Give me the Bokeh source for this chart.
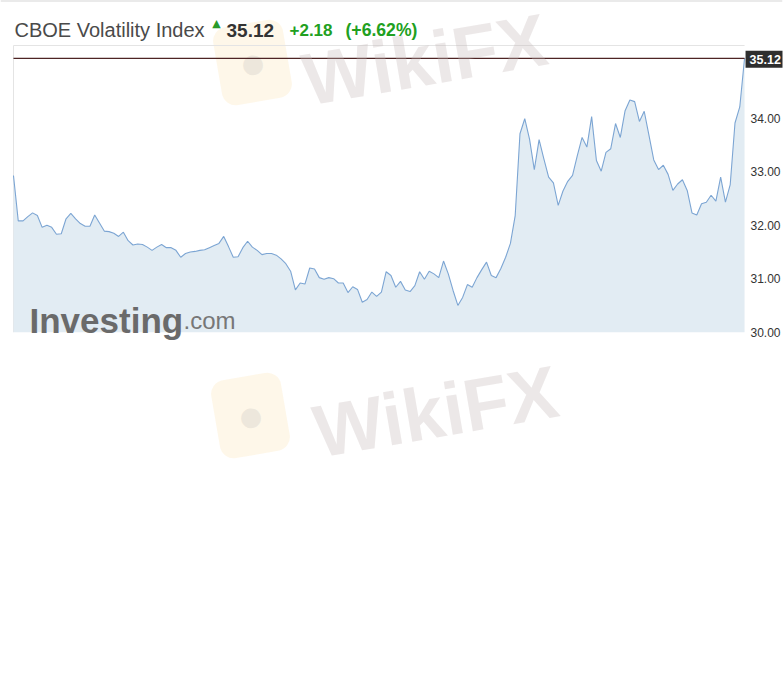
from bokeh.plotting import figure
from bokeh.models import Label, Range1d, FixedTicker, PrintfTickFormatter, Span
from bokeh.embed import file_html
from bokeh.resources import INLINE

# ---- data ----
vix = [
    32.93, 32.08, 32.08, 32.16, 32.23, 32.18, 31.96, 32.00, 31.96, 31.83,
    31.84, 32.12, 32.22, 32.12, 32.03, 31.98, 31.98, 32.19, 32.04, 31.89,
    31.88, 31.85, 31.79, 31.87, 31.71, 31.63,
    31.65, 31.64, 31.59, 31.53, 31.59, 31.64, 31.58, 31.58, 31.53, 31.40,
    31.47, 31.50, 31.51, 31.53, 31.54, 31.58, 31.62, 31.66, 31.79, 31.60,
    31.40, 31.41, 31.58, 31.70, 31.59,
    31.53, 31.45, 31.47, 31.47, 31.44, 31.37, 31.28, 31.14, 30.79, 30.92,
    30.90, 31.20, 31.18, 31.02, 30.99, 31.02, 31.00, 30.92, 30.92, 30.74,
    30.85, 30.80, 30.56, 30.61, 30.75, 30.67, 30.75, 31.13, 31.06, 30.84,
    30.95, 30.79, 30.76, 30.87, 31.13, 30.99, 31.14, 31.09, 31.02, 31.33,
    31.09, 30.78, 30.50, 30.65, 30.89, 30.84, 31.02, 31.17, 31.31, 31.06,
    31.02, 31.19, 31.40, 31.66, 32.18, 33.71, 33.99, 33.61, 33.04, 33.60,
    33.24, 32.90, 32.79, 32.37, 32.64, 32.82, 32.93, 33.30, 33.64, 33.46,
    34.03, 33.21, 33.01, 33.36, 33.43, 33.90, 33.64, 34.14, 34.34, 34.31,
    33.94, 34.13, 33.68, 33.22, 33.04, 33.12, 32.95, 32.65, 32.77, 32.85,
    32.65, 32.23, 32.19, 32.40, 32.43, 32.56, 32.45, 32.90, 32.43, 32.76,
    33.91, 34.21, 35.12,
]
steps = list(range(len(vix)))
y_ticks = [30, 31, 32, 33, 34]
last_price = 35.12
change_text = "+2.18"
change_pct_text = "(+6.62%)"
title_text = "CBOE Volatility Index"

# ---- layout geometry (pixels) ----
W, H = 783, 460
BOX_L, BOX_R = 13, 745          # chart box, left/right
BOX_T, Y30 = 45, 331.7          # chart box top, pixel row of 30.00
PX_PER_UNIT = 53.5
n = len(vix)
px_per_step = (BOX_R - BOX_L) / (n - 1)

x_start = -BOX_L / px_per_step
x_end = (n - 1) + (W - BOX_R) / px_per_step
Y_BASE = 30.0
y_end = Y_BASE + Y30 / PX_PER_UNIT
y_start = Y_BASE - (H - Y30) / PX_PER_UNIT
Y_TOP = Y_BASE + (Y30 - BOX_T) / PX_PER_UNIT

p = figure(width=W, height=H, output_backend="svg", toolbar_location=None,
           x_range=Range1d(x_start, x_end), y_range=Range1d(y_start, y_end),
           x_axis_location=None, y_axis_location="right", title=None,
           min_border_left=0, min_border_top=0, min_border_right=0,
           min_border_bottom=0)
p.outline_line_color = None
p.grid.visible = False
p.background_fill_color = "white"
p.border_fill_color = "white"

ax = p.yaxis[0]
ax.ticker = FixedTicker(ticks=y_ticks)
ax.formatter = PrintfTickFormatter(format="%.2f")
ax.axis_line_color = None
ax.major_tick_line_color = None
ax.minor_tick_line_color = None
ax.major_tick_out = 0
ax.major_tick_in = 0
ax.major_label_standoff = -32
ax.major_label_text_font = "Liberation Sans"
ax.major_label_text_font_size = "12px"
ax.major_label_text_color = "#333333"


def fx(px):
    return px


def fy(py):
    return H - py


# page top rule
p.add_layout(Span(location=y_end, dimension="width", line_color="#d6d6d6",
                  line_width=2))

# WikiFX watermark logos (behind)
for (lx, ly) in [(252, 62), (250, 415)]:
    p.add_layout(Label(x=fx(lx), y=fy(ly), x_units="screen", y_units="screen",
                       text=" ", text_font_size="10px", padding=34,
                       angle=0.17, text_align="center", text_baseline="middle",
                       background_fill_color="#fcecc8", background_fill_alpha=0.4,
                       border_radius=14, level="underlay"))
    p.add_layout(Label(x=fx(lx), y=fy(ly), x_units="screen", y_units="screen",
                       text="●", text_font_size="46px", angle=0.17,
                       text_align="center", text_baseline="middle",
                       text_color="#bdb8b8", text_alpha=0.25, level="underlay"))

# chart box border (top + left)
p.line([steps[0], steps[0], steps[-1]], [Y_BASE, Y_TOP, Y_TOP],
       line_color="#e4e4e4", line_width=1)

# area + line
p.varea(x=steps, y1=Y_BASE, y2=vix, fill_color="#e2ecf3")
p.line(steps, vix, line_color="#7ca5d3", line_width=1.1)

# last price line
p.line([steps[0], steps[-1]], [last_price, last_price],
       line_color="#4e2424", line_width=1.2)

# Investing.com watermark inside chart
p.add_layout(Label(x=fx(29), y=fy(320), x_units="screen", y_units="screen",
                   text="Investing", text_font="Liberation Sans",
                   text_font_style="bold", text_font_size="35px",
                   text_color="#6a6a6a", text_baseline="alphabetic"))
p.add_layout(Label(x=fx(183), y=fy(320), x_units="screen", y_units="screen",
                   text=".com", text_font="Liberation Sans",
                   text_font_size="24px",
                   text_color="#777777", text_baseline="alphabetic"))

# WikiFX text watermarks
for (tx, ty) in [(303, 80), (314, 432)]:
    p.add_layout(Label(x=fx(tx), y=fy(ty), x_units="screen", y_units="screen",
                       text="WikiFX", text_font="Liberation Sans",
                       text_font_style="bold", text_font_size="74px",
                       angle=0.17, text_color="#c4b6b6", text_alpha=0.32,
                       text_baseline="alphabetic"))

# header texts
p.add_layout(Label(x=fx(14), y=fy(29.5), x_units="screen", y_units="screen",
                   text=title_text, text_font="Liberation Sans",
                   text_font_size="20px", text_color="#4a4a4a",
                   text_baseline="alphabetic"))
p.add_layout(Label(x=fx(216), y=fy(22.5), x_units="screen", y_units="screen",
                   text="▲", text_font="DejaVu Sans", text_font_size="11px",
                   text_color="#2a9a2a", text_align="center",
                   text_baseline="alphabetic"))
p.add_layout(Label(x=fx(226), y=fy(29.5), x_units="screen", y_units="screen",
                   text=f"{last_price:.2f}", text_font="Liberation Sans",
                   text_font_style="bold", text_font_size="19px",
                   text_color="#333333", text_baseline="alphabetic"))
p.add_layout(Label(x=fx(289), y=fy(29.5), x_units="screen", y_units="screen",
                   text=change_text, text_font="Liberation Sans",
                   text_font_style="bold", text_font_size="17px",
                   text_color="#21a021", text_baseline="alphabetic"))
p.add_layout(Label(x=fx(345), y=fy(29.5), x_units="screen", y_units="screen",
                   text=change_pct_text, text_font="Liberation Sans",
                   text_font_style="bold", text_font_size="17.6px",
                   text_color="#21a021", text_baseline="alphabetic"))

# last price box on the axis
p.add_layout(Label(x=steps[-1], y=last_price, x_offset=1, y_offset=-1,
                   text=f"{last_price:.2f}", text_font="Liberation Sans",
                   text_font_style="bold", text_font_size="12.5px",
                   text_color="white", text_align="left", text_baseline="middle",
                   background_fill_color="#2e2e2e", padding=(4, 4)))

open("out.html", "w").write(file_html(p, INLINE))
